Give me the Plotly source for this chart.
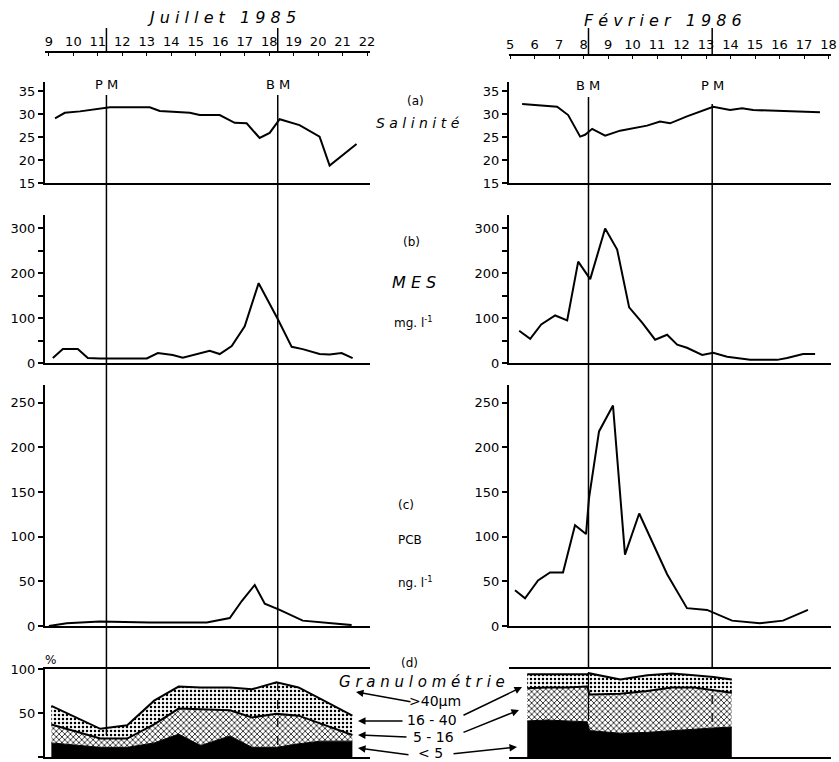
import plotly.graph_objects as go

W, H = 839, 762
def PX(x):
    return x / W
def PY(y):
    return 1 - y / H

# ---------------- data ----------------
hours_jul = list(range(9, 23))
hours_feb = list(range(5, 19))
hour_labels_jul = [str(h) for h in hours_jul]
hour_labels_feb = [str(h) for h in hours_feb]

tide_jul_t = [11.35, 18.35]
tide_jul_lab = ["P M", "B M"]
tide_feb_t = [8.2, 13.25]
tide_feb_lab = ["B M", "P M"]

# (a) Salinité
sal_jul_h = [9.25, 9.65, 10.27, 11.49, 13.12, 13.53, 14.76, 15.16, 15.98, 16.59, 17.08,
             17.61, 18.02, 18.43, 19.24, 20.06, 20.47, 21.57]
sal_jul = [29.1, 30.3, 30.6, 31.5, 31.5, 30.7, 30.3, 29.8, 29.8, 28.1, 28.0,
           24.8, 25.9, 28.9, 27.6, 25.1, 18.8, 23.5]
sal_feb_h = [5.49, 6.92, 7.37, 7.86, 8.06, 8.35, 8.88, 9.49, 10.59, 11.12, 11.53,
             12.22, 13.29, 13.98, 14.47, 14.92, 17.65]
sal_feb = [32.2, 31.6, 29.8, 25.1, 25.5, 26.8, 25.3, 26.4, 27.5, 28.4, 28.0,
           29.5, 31.6, 30.9, 31.3, 30.9, 30.4]

# (b) MES mg/l
mes_jul_h = [9.16, 9.57, 10.18, 10.59, 11.08, 13.0, 13.45, 14.06, 14.47, 15.57, 15.98,
             16.47, 17.0, 17.57, 18.35, 18.92, 19.37, 20.06, 20.47, 20.96, 21.41]
mes_jul = [11, 31, 31, 11, 10, 10, 22, 18, 12, 27, 20,
           38, 82, 178, 98, 36, 31, 20, 19, 22, 11]
mes_feb_h = [5.37, 5.82, 6.27, 6.84, 7.33, 7.78, 8.27, 8.88, 9.37, 9.86, 10.39, 10.92,
             11.41, 11.82, 12.22, 12.84, 13.29, 13.86, 14.8, 15.9, 16.31, 16.96, 17.45]
mes_feb = [72, 54, 86, 106, 95, 226, 187, 300, 253, 124, 90, 52,
           63, 41, 34, 18, 23, 14, 7, 7, 11, 20, 20]

# (c) PCB ng/l
pcb_jul_h = [9.0, 9.73, 11.08, 13.12, 15.45, 16.39, 16.88, 17.41, 17.82, 18.43, 19.37, 21.37]
pcb_jul = [0, 3, 5, 4, 4, 9, 28, 46, 25, 18, 6, 1]
pcb_feb_h = [5.2, 5.61, 6.14, 6.63, 7.16, 7.65, 8.1, 8.22, 8.63, 9.2, 9.69, 10.27,
             11.41, 12.22, 13.04, 14.06, 15.2, 16.14, 17.16]
pcb_feb = [40, 31, 51, 60, 60, 113, 103, 143, 218, 247, 80, 126,
           58, 20, 18, 6, 3, 6, 18]

# (d) Granulométrie (% per class)
gran_classes = ["<5", "5 - 16", "16 - 40", ">40µm"]
gran_jul_h = [9.1, 11.1, 12.2, 13.3, 14.3, 15.2, 16.4, 17.3, 18.3, 19.2, 20.1, 21.4]
gran_jul_lt5 = [16, 11, 11, 16, 26, 13, 24, 11, 11, 15, 18, 18]
gran_jul_5_16 = [21, 10, 10, 21, 29, 41, 29, 34, 38, 32, 20, 7]
gran_jul_16_40 = [21, 11, 15, 27, 25, 25, 26, 32, 36, 32, 28, 22]

gran_feb_h = [5.7, 6.5, 7.3, 8.15, 8.25, 9.5, 10.6, 11.6, 12.5, 13.3, 14.05]
gran_feb_lt5 = [41, 42, 41, 40, 30, 27, 28, 30, 31, 33, 34]
gran_feb_5_16 = [37, 37, 38, 40, 41, 45, 47, 49, 48, 43, 39]
gran_feb_16_40 = [16, 15, 15, 14, 24, 16, 18, 16, 14, 15, 15]

# ---------------- layout geometry ----------------
LX = [PX(45), PX(370)]
RX = [PX(509), PX(831)]
LRANGE = [8.84, 22.12]
RRANGE = [4.955, 18.1]
ROWS = {
    "sal": ([PY(183), PY(82)], [15, 37], [15, 20, 25, 30, 35], None),
    "mes": ([PY(363), PY(215)], [0, 330], [0, 100, 200, 300], 50),
    "pcb": ([PY(626), PY(385)], [0, 270], [0, 50, 100, 150, 200, 250], None),
    "gran": ([PY(757), PY(669)], [0, 100], [0, 50, 100], None),
}
FONT = "DejaVu Sans"
BLK = "black"

fig = go.Figure()

def line_trace(x, y, xa, ya):
    fig.add_trace(go.Scatter(x=x, y=y, mode="lines", xaxis=xa, yaxis=ya,
                             line=dict(color=BLK, width=2), showlegend=False,
                             hoverinfo="skip"))

line_trace(sal_jul_h, sal_jul, "x", "y")
line_trace(mes_jul_h, mes_jul, "x2", "y2")
line_trace(pcb_jul_h, pcb_jul, "x3", "y3")
line_trace(sal_feb_h, sal_feb, "x5", "y5")
line_trace(mes_feb_h, mes_feb, "x6", "y6")
line_trace(pcb_feb_h, pcb_feb, "x7", "y7")

def gran_traces(h, a, b, c, xa, ya, grp):
    fig.add_trace(go.Scatter(x=h, y=a, xaxis=xa, yaxis=ya, stackgroup=grp, mode="lines",
                             line=dict(color=BLK, width=1), fillcolor=BLK,
                             showlegend=False, hoverinfo="skip", name=gran_classes[0]))
    fig.add_trace(go.Scatter(x=h, y=b, xaxis=xa, yaxis=ya, stackgroup=grp, mode="lines",
                             line=dict(color=BLK, width=2), fillcolor="white",
                             fillpattern=dict(shape="x", size=4, solidity=0.35,
                                              fgcolor=BLK, bgcolor="white"),
                             showlegend=False, hoverinfo="skip", name=gran_classes[1]))
    fig.add_trace(go.Scatter(x=h, y=c, xaxis=xa, yaxis=ya, stackgroup=grp, mode="lines",
                             line=dict(color=BLK, width=2), fillcolor="white",
                             fillpattern=dict(shape=".", size=4, solidity=0.3,
                                              fgcolor=BLK, bgcolor="white"),
                             showlegend=False, hoverinfo="skip", name=gran_classes[2]))

gran_traces(gran_jul_h, gran_jul_lt5, gran_jul_5_16, gran_jul_16_40, "x4", "y4", "gj")
gran_traces(gran_feb_h, gran_feb_lt5, gran_feb_5_16, gran_feb_16_40, "x8", "y8", "gf")

# invisible traces to carry top time axes
fig.add_trace(go.Scatter(x=hours_jul, y=[None] * len(hours_jul), xaxis="x9", yaxis="y",
                         mode="lines", showlegend=False, hoverinfo="skip"))
fig.add_trace(go.Scatter(x=hours_feb, y=[None] * len(hours_feb), xaxis="x10", yaxis="y5",
                         mode="lines", showlegend=False, hoverinfo="skip"))

layout = dict(width=W, height=H, margin=dict(l=0, r=0, t=0, b=0, pad=0, autoexpand=False),
              template="none",
              paper_bgcolor="white", plot_bgcolor="rgba(0,0,0,0)",
              font=dict(family=FONT, color=BLK, size=13), showlegend=False)

order = ["sal", "mes", "pcb", "gran"]
for col, (xd, xr, base) in enumerate([(LX, LRANGE, 1), (RX, RRANGE, 5)]):
    for i, key in enumerate(order):
        n = base + i
        xs = "" if n == 1 else str(n)
        dom, yr, tv, minor = ROWS[key]
        right_gran = (col == 1 and key == "gran")
        layout["xaxis" + xs] = dict(domain=xd, range=xr, anchor="y" + xs, automargin=False,
                                    showline=True, linecolor=BLK, linewidth=2,
                                    showticklabels=False, ticks="", showgrid=False,
                                    zeroline=False, mirror=(key == "gran"))
        ya = dict(domain=dom, range=yr, anchor="x" + xs, showgrid=False, zeroline=False,
                  automargin=False,
                  showline=not right_gran, linecolor=BLK, linewidth=2,
                  ticks="" if right_gran else "outside", ticklen=5, tickwidth=1.5,
                  tickcolor=BLK, tickvals=tv, showticklabels=not right_gran,
                  tickfont=dict(size=13, family=FONT, color=BLK))
        if minor and not right_gran:
            ya["minor"] = dict(dtick=minor, tick0=0, ticks="outside", ticklen=5,
                               tickwidth=1.5, tickcolor=BLK, showgrid=False)
        layout["yaxis" + xs] = ya

for name, over, pos, rng, tv, tt in [("xaxis9", "x", PY(52), LRANGE, hours_jul, hour_labels_jul),
                                     ("xaxis10", "x5", PY(55), RRANGE, hours_feb, hour_labels_feb)]:
    layout[name] = dict(overlaying=over, side="top", anchor="free", position=pos,
                        range=rng, tickvals=tv, ticktext=tt,
                        automargin=False, ticklabeloverflow="allow",
                        showline=True, linecolor=BLK, linewidth=2, ticks="inside",
                        ticklen=3, tickcolor=BLK, showgrid=False, zeroline=False,
                        tickfont=dict(size=13, family=FONT, color=BLK))
fig.update_layout(**layout)

# ---------------- tide vertical lines ----------------
shapes = []
def vseg(xref, xv, y0, y1, dash="solid", width=1.5):
    shapes.append(dict(type="line", xref=xref, yref="paper", x0=xv, x1=xv,
                       y0=PY(y0), y1=PY(y1), line=dict(color=BLK, width=width, dash=dash)))

for t in tide_jul_t:
    vseg("x", t, 28, 52)
vseg("x", tide_jul_t[0], 95, 735)
vseg("x", tide_jul_t[1], 95, 668)
vseg("x", tide_jul_t[1], 682, 745, dash="dash", width=1.2)
for t in tide_feb_t:
    vseg("x5", t, 28, 55)
vseg("x5", tide_feb_t[0], 97, 668)
vseg("x5", tide_feb_t[0], 672, 720, width=1.2)
vseg("x5", tide_feb_t[1], 104, 668)
vseg("x5", tide_feb_t[1], 695, 730, dash="dash", width=1.2)
fig.update_layout(shapes=shapes)

# ---------------- texts ----------------
def sp(s):
    return " ".join(list(s))

ann = []
def txt(x, y, s, size=13, italic=False, xref="paper", xanchor="center"):
    t = "<i>" + s + "</i>" if italic else s
    ann.append(dict(x=x if xref != "paper" else PX(x), y=PY(y), xref=xref, yref="paper",
                    text=t, showarrow=False, xanchor=xanchor, yanchor="middle",
                    font=dict(size=size, family=FONT, color=BLK)))

txt(221, 18, sp("Juillet") + "   " + sp("1985"), size=16, italic=True)
txt(663, 20, sp("Février") + "   " + sp("1986"), size=16, italic=True)
for t, lab in zip(tide_jul_t, tide_jul_lab):
    txt(t, 85, lab, size=13, xref="x")
for t, lab in zip(tide_feb_t, tide_feb_lab):
    txt(t, 86, lab, size=13, xref="x5")

txt(415, 101, "(a)", size=12)
txt(418, 123, sp("Salinité"), size=14, italic=True)
txt(411, 242, "(b)", size=12)
txt(414, 282, sp("MES"), size=16, italic=True)
txt(413, 322, "mg. l<sup>-1</sup>", size=12)
txt(406, 505, "(c)", size=12)
txt(410, 540, "PCB", size=12)
txt(415, 582, "ng. l<sup>-1</sup>", size=12)
txt(409, 663, "(d)", size=12)
txt(422, 682, sp("Granulométrie"), size=15, italic=True)
txt(435, 701, ">40µm", size=14)
txt(432, 720, "16 - 40", size=14)
txt(433, 737, "5 - 16", size=14)
txt(430, 753, "< 5", size=14)
txt(50, 660, "%", size=12)

def arrow(tip, tail):
    ann.append(dict(x=PX(tip[0]), y=PY(tip[1]), xref="paper", yref="paper",
                    ax=tail[0] - tip[0], ay=tail[1] - tip[1], axref="pixel", ayref="pixel",
                    text="", showarrow=True, arrowhead=2, arrowsize=1, arrowwidth=1.5,
                    arrowcolor=BLK))

arrow((356, 692), (412, 702))
arrow((358, 721), (404, 721))
arrow((358, 735), (408, 737))
arrow((358, 748), (410, 755))
arrow((522, 687), (462, 716))
arrow((519, 710), (462, 733))
arrow((517, 747), (452, 754))
fig.update_layout(annotations=ann)

fig.write_html("out.html", config={"displayModeBar": False},
               post_script="document.body.style.margin='0';"
                           "document.body.style.overflow='hidden';")
